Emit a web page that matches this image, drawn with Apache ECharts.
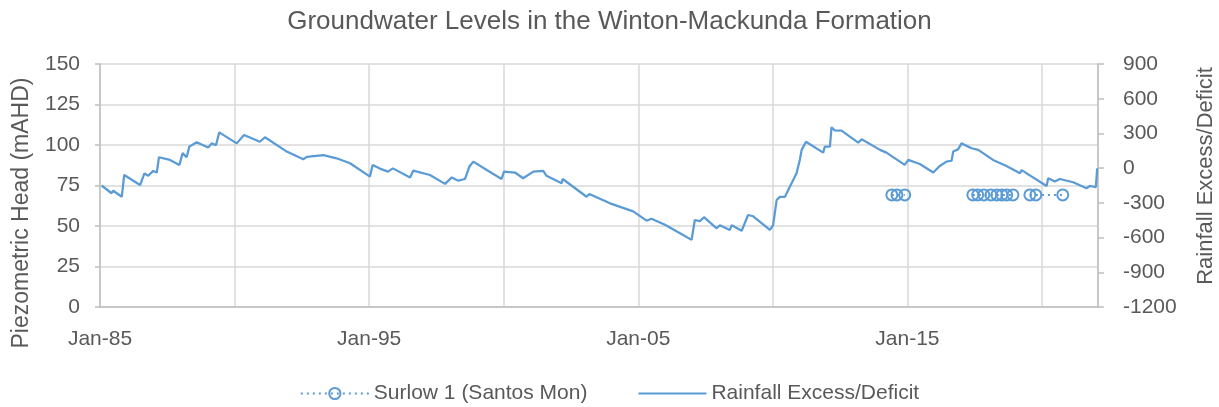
<!DOCTYPE html>
<html>
<head>
<meta charset="utf-8">
<title>Groundwater Levels in the Winton-Mackunda Formation</title>
<script src="https://cdn.jsdelivr.net/npm/echarts@6/dist/echarts.min.js"></script>
<style>
  html, body { margin: 0; padding: 0; background: #fff; }
  #chart { width: 1219px; height: 407px; }
</style>
</head>
<body>
<div id="chart"></div>
<script>
// Rainfall excess/deficit (right axis), decimal years
const rainDates = [
  1985.06, 1985.43, 1985.49, 1985.81, 1985.90, 1986.49, 1986.65, 1986.79, 1986.98, 1987.11,
  1987.19, 1987.60, 1987.95, 1988.07, 1988.22, 1988.32, 1988.59, 1989.02, 1989.15, 1989.31,
  1989.43, 1990.08, 1990.35, 1990.94, 1991.13, 1991.94, 1992.55, 1992.68, 1993.30, 1993.79,
  1994.29, 1995.03, 1995.13, 1995.40, 1995.70, 1995.88, 1996.52, 1996.64, 1997.26, 1997.82,
  1998.07, 1998.31, 1998.56, 1998.72, 1998.87, 1999.37, 1999.92, 2000.01, 2000.42, 2000.72,
  2001.10, 2001.47, 2001.59, 2002.15, 2002.19, 2003.08, 2003.18, 2003.95, 2004.81, 2005.31,
  2005.49, 2005.99, 2006.55, 2006.98, 2007.10, 2007.29, 2007.44, 2007.91, 2008.03, 2008.40,
  2008.47, 2008.84, 2009.08, 2009.27, 2009.89, 2010.01, 2010.14, 2010.26, 2010.45, 2010.63,
  2010.88, 2011.00, 2011.07, 2011.23, 2011.87, 2011.93, 2012.12, 2012.18, 2012.30, 2012.55,
  2013.17, 2013.30, 2013.98, 2014.22, 2014.90, 2015.03, 2015.46, 2015.96, 2016.20, 2016.45,
  2016.64, 2016.70, 2016.88, 2017.01, 2017.38, 2017.63, 2018.18, 2018.68, 2019.18, 2019.24,
  2020.17, 2020.23, 2020.48, 2020.66, 2021.16, 2021.65, 2021.78, 2022.00, 2022.05
];
const rainValues = [
  -150, -217, -195, -247, -59, -146, -45, -66, -24, -38,
  94, 71, 28, 130, 94, 186, 224, 178, 214, 197,
  309, 214, 287, 228, 267, 143, 77, 98, 113, 85,
  42, -73, 28, -4, -30, -2, -80, -21, -59, -136,
  -80, -108, -94, 12, 56, -16, -94, -30, -38, -87,
  -30, -24, -66, -130, -94, -247, -224, -304, -374, -454,
  -437, -490, -563, -620, -448, -458, -424, -520, -493, -534,
  -493, -541, -405, -416, -534, -492, -276, -248, -248, -160,
  -45, 71, 158, 228, 134, 186, 186, 354, 326, 325,
  220, 249, 158, 134, 28, 71, 36, -38, 18, 56,
  64, 143, 162, 214, 172, 158, 71, 18, -45, -17,
  -154, -87, -115, -94, -122, -174, -154, -165, -2
];

// Surlow 1 (Santos Mon) piezometric head (left axis); null = gap
const surlowDates = [
  2014.42, 2014.61, 2014.90, 2016.00,
  2017.43, 2017.61, 2017.84, 2018.10, 2018.32, 2018.51, 2018.69, 2018.92, 2019.20,
  2019.55, 2019.77, 2020.77
];
const surlowValues = [
  69.2, 69.2, 69.2, null,
  69.2, 69.2, 69.2, 69.2, 69.2, 69.2, 69.2, 69.2, null,
  69.2, 69.2, 69.2
];

const leftTicks = { min: 0, max: 150, step: 25 };
const rightTicks = { min: -1200, max: 900, step: 300 };
const yearTicks = { min: 1985, max: 2022.08, step: 5, labelEvery: 10 };

const BLUE = '#5B9BD5';
const TEXT = '#595959';
const GRID = '#D9D9D9';
const AXIS = '#BFBFBF';
const FONT = 'Liberation Sans';

const chart = echarts.init(document.getElementById('chart'));

const option = {
  animation: false,
  textStyle: { fontFamily: FONT, color: TEXT },
  title: {
    text: 'Groundwater Levels in the Winton-Mackunda Formation',
    left: 'center',
    top: 4,
    textStyle: { fontFamily: FONT, fontSize: 26, fontWeight: 'normal', color: TEXT }
  },
  grid: { left: 100, right: 121, top: 64, bottom: 100, containLabel: false },
  legend: {
    top: 378,
    left: 'center',
    itemWidth: 68,
    itemHeight: 14,
    itemGap: 50,
    textStyle: { fontFamily: FONT, fontSize: 21, color: TEXT },
    data: [
      { name: 'Surlow 1 (Santos Mon)' },
      { name: 'Rainfall Excess/Deficit', itemStyle: { opacity: 0 } }
    ]
  },
  xAxis: {
    type: 'value',
    min: yearTicks.min,
    max: yearTicks.max,
    interval: yearTicks.step,
    axisLine: { show: true, lineStyle: { color: AXIS, width: 1.5 } },
    axisTick: { show: false },
    splitLine: { show: true, lineStyle: { color: GRID, width: 1.5 } },
    axisLabel: {
      margin: 22,
      fontSize: 21,
      color: TEXT,
      fontFamily: FONT,
      showMaxLabel: false,
      formatter: v => {
        const d = v - yearTicks.min;
        if (Math.abs(d % yearTicks.labelEvery) > 1e-6) return '';
        return 'Jan-' + String(Math.round(v) % 100).padStart(2, '0');
      }
    }
  },
  yAxis: [
    {
      type: 'value',
      min: leftTicks.min,
      max: leftTicks.max,
      interval: leftTicks.step,
      axisLine: { show: true, lineStyle: { color: AXIS, width: 1.5 } },
      axisTick: { show: true, length: 5, lineStyle: { color: AXIS, width: 1.5 } },
      splitLine: { show: true, lineStyle: { color: GRID, width: 1.5 } },
      axisLabel: { margin: 20, fontSize: 21, color: TEXT, fontFamily: FONT }
    },
    {
      type: 'value',
      position: 'right',
      min: rightTicks.min,
      max: rightTicks.max,
      interval: rightTicks.step,
      axisLine: { show: true, lineStyle: { color: AXIS, width: 1.5 } },
      axisTick: { show: true, length: 6, lineStyle: { color: AXIS, width: 1.5 } },
      splitLine: { show: false },
      axisLabel: { margin: 25, fontSize: 21, color: TEXT, fontFamily: FONT, formatter: v => String(v) }
    }
  ],
  graphic: [
    {
      type: 'text',
      x: 22, y: 213,
      rotation: Math.PI / 2,
      style: {
        text: 'Piezometric Head (mAHD)',
        fontFamily: FONT, fontSize: 23, fill: TEXT,
        textAlign: 'center', textVerticalAlign: 'middle'
      }
    },
    {
      type: 'text',
      x: 1206, y: 176,
      rotation: Math.PI / 2,
      style: {
        text: 'Rainfall Excess/Deficit',
        fontFamily: FONT, fontSize: 22, fill: TEXT,
        textAlign: 'center', textVerticalAlign: 'middle'
      }
    }
  ],
  series: [
    {
      name: 'Surlow 1 (Santos Mon)',
      type: 'line',
      yAxisIndex: 0,
      data: surlowDates.map((d, i) => [d, surlowValues[i]]),
      connectNulls: false,
      symbol: 'circle',
      symbolSize: 11,
      showAllSymbol: true,
      lineStyle: { color: BLUE, width: 2, type: [2, 4] },
      itemStyle: { color: 'rgba(255,255,255,0)', borderColor: BLUE, borderWidth: 2 },
      z: 3
    },
    {
      name: 'Rainfall Excess/Deficit',
      type: 'line',
      yAxisIndex: 1,
      data: rainDates.map((d, i) => [d, rainValues[i]]),
      showSymbol: false,
      symbol: 'none',
      lineStyle: { color: BLUE, width: 2.25 },
      itemStyle: { color: BLUE },
      z: 2
    }
  ]
};

chart.setOption(option);
</script>
</body>
</html>
